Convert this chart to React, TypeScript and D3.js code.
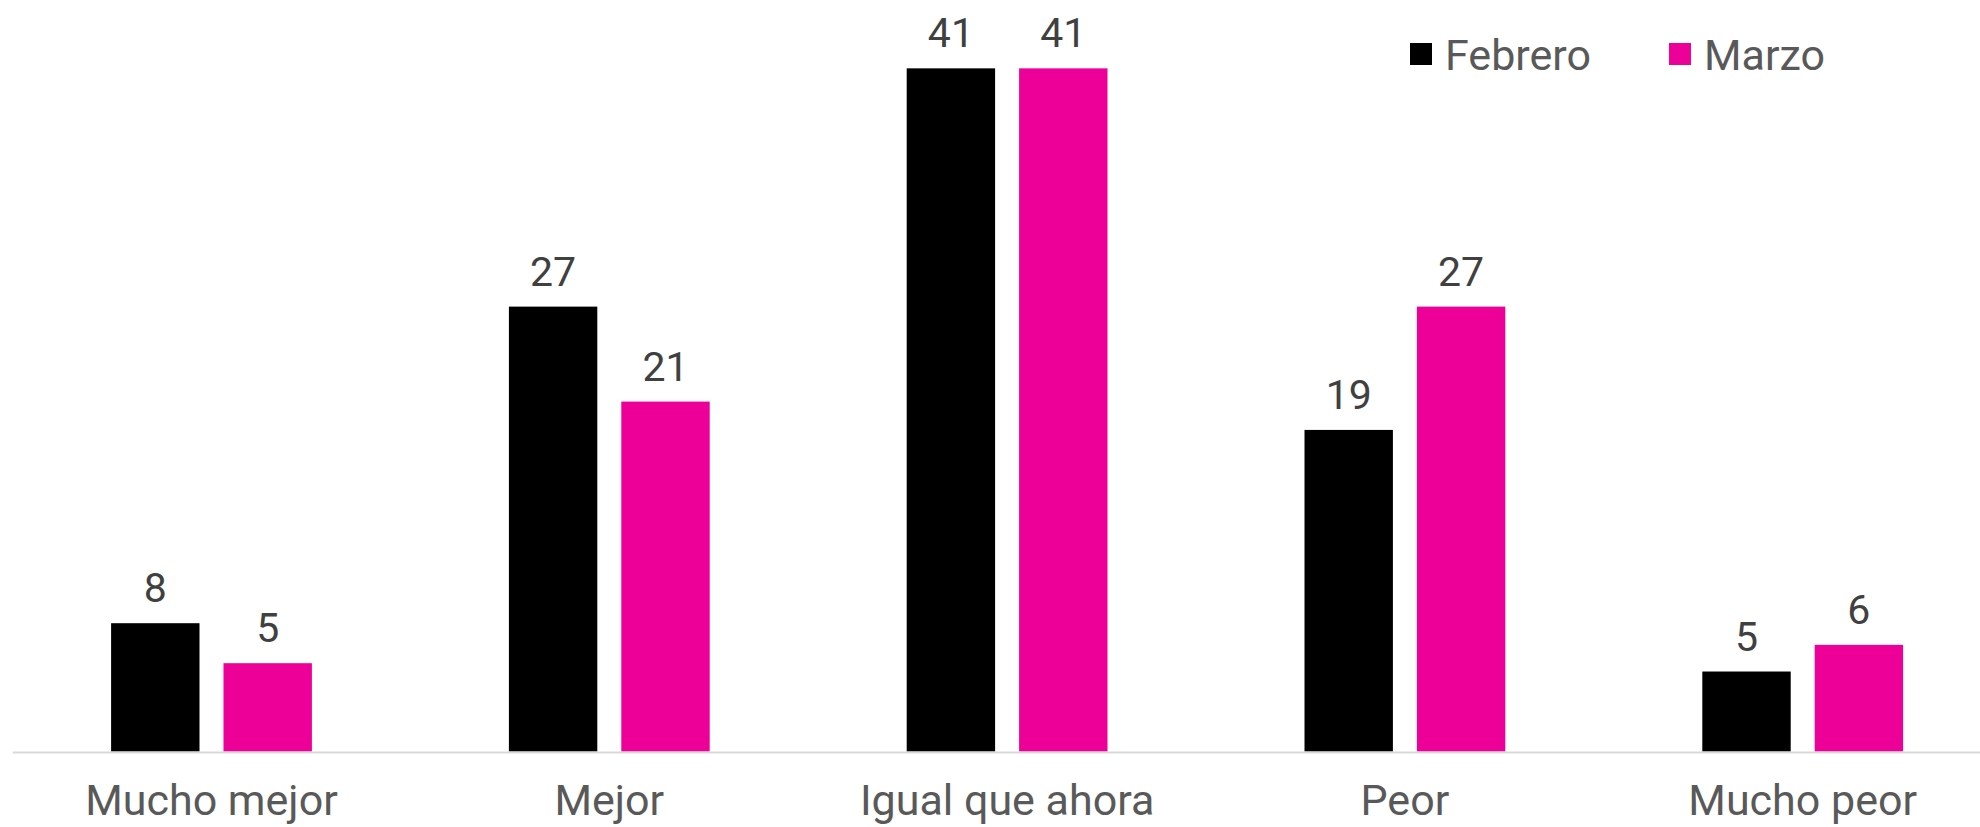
import React from "react";
import * as d3 from "d3";

const categories = ["Mucho mejor", "Mejor", "Igual que ahora", "Peor", "Mucho peor"];
const seriesNames = ["Febrero", "Marzo"];
const febrero = [7.7, 26.7, 41, 19.3, 4.8];
const marzo = [5.3, 21, 41, 26.7, 6.4];
const seriesColors = ["#000000", "#EC0098"];

const W = 1980;
const H = 827;

export default function App() {
  const values = [febrero, marzo];
  const x0 = d3.scaleBand<string>().domain(categories).range([12.6, 2001.6]).paddingInner(0).paddingOuter(0);
  const bw = x0.bandwidth();
  const x1 = d3
    .scaleBand<string>()
    .domain(seriesNames)
    .range([bw / 2 - 100.4, bw / 2 + 100.4])
    .paddingInner(0.2135)
    .paddingOuter(0);
  const y = d3.scaleLinear().domain([0, 45]).range([751.5, 1.7]);
  const textColor = "#595959";
  const labelColor = "#404040";
  const font = "Roboto, 'Noto Sans', sans-serif";

  return (
    <svg
      width={W}
      height={H}
      style={{ position: "absolute", left: 0, top: 0, background: "#fff" }}
      fontFamily={font}
    >
      <rect x={0} y={0} width={W} height={H} fill="#fff" />
      {categories.map((c, i) => (
        <g key={c} transform={`translate(${x0(c)},0)`}>
          {seriesNames.map((s, j) => {
            const v = values[j][i];
            const bx = x1(s) as number;
            return (
              <g key={s}>
                <rect x={bx} y={y(v)} width={x1.bandwidth()} height={y(0) - y(v)} fill={seriesColors[j]} />
                <text
                  x={bx + x1.bandwidth() / 2}
                  y={y(v) - 21}
                  textAnchor="middle"
                  fontSize={41}
                  fill={labelColor}
                >
                  {Math.round(v)}
                </text>
              </g>
            );
          })}
          <text x={bw / 2} y={815} textAnchor="middle" fontSize={43} fill={textColor}>
            {c}
          </text>
        </g>
      ))}
      <line x1={12.6} x2={W} y1={y(0) + 1} y2={y(0) + 1} stroke="#D9D9D9" strokeWidth={2} />
      <g>
        {seriesNames.map((s, j) => {
          const lx = [1410, 1669][j];
          return (
            <g key={s}>
              <rect x={lx} y={43} width={22} height={22} fill={seriesColors[j]} />
              <text x={lx + 35} y={69.5} fontSize={43} fill={textColor}>
                {s}
              </text>
            </g>
          );
        })}
      </g>
    </svg>
  );
}
